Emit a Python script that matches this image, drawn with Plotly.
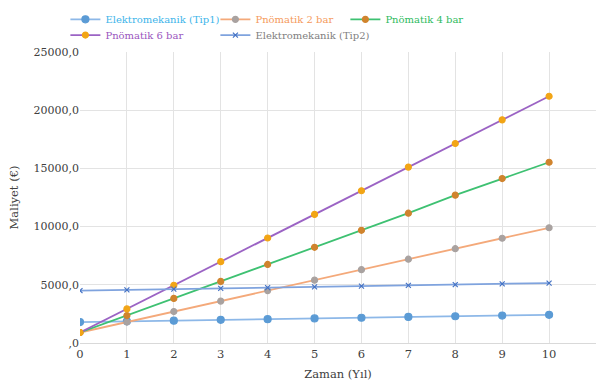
import plotly.graph_objects as go

years = list(range(0, 11))
tip1 = [1800, 1860, 1920, 1990, 2050, 2110, 2170, 2240, 2300, 2360, 2420]
bar2 = [900, 1800, 2700, 3600, 4500, 5400, 6300, 7200, 8100, 9000, 9900]
bar4 = [900, 2360, 3830, 5290, 6750, 8220, 9680, 11150, 12700, 14130, 15530]
bar6 = [900, 2930, 4960, 6990, 9020, 11050, 13080, 15110, 17140, 19170, 21200]
tip2 = [4500, 4560, 4630, 4690, 4760, 4820, 4890, 4950, 5020, 5080, 5150]

y_ticks = [0, 5000, 10000, 15000, 20000, 25000]
y_labels = [",0", "5000,0", "10000,0", "15000,0", "20000,0", "25000,0"]
x_ticks = list(range(0, 12))

SERIF = "DejaVu Serif"

series = [
    ("Elektromekanik (Tip1)", tip1, "#8DB8E8", "#5B9BD5", "circle", 7, "#3DB5EA", "legend", -0.0283, 1.162),
    ("Pnömatik 2 bar", bar2, "#F4A97A", "#A9A2A0", "circle", 6, "#F59A5C", "legend2", 0.2624, 1.162),
    ("Pnömatik 4 bar", bar4, "#3EC172", "#D0842E", "circle", 6, "#2EBB5E", "legend3", 0.5143, 1.162),
    ("Pnömatik 6 bar", bar6, "#9B63C4", "#F2A516", "circle", 6, "#9A56BE", "legend4", -0.0283, 1.108),
    ("Elektromekanik (Tip2)", tip2, "#7FA3DE", "#4472C4", "x-thin", 5, "#808080", "legend5", 0.2624, 1.108),
]

fig = go.Figure()
legends = {}
for name, vals, lc, mc, sym, sz, tc, lg, lx, ly in series:
    fig.add_trace(go.Scatter(
        x=years, y=vals,
        name=f"<span style='color:{tc}'>{name}</span>",
        mode="lines+markers",
        line=dict(color=lc, width=1.8),
        marker=dict(color=mc, size=sz, symbol=sym,
                    line=dict(color=mc, width=1.2)),
        legend=lg,
    ))
    legends[lg] = dict(orientation="h", xanchor="left", yanchor="top", x=lx, y=ly,
                       font=dict(family=SERIF, size=10), itemwidth=30,
                       bgcolor="rgba(0,0,0,0)")

fig.update_layout(
    width=601, height=390,
    margin=dict(l=80, r=5, t=52, b=47),
    paper_bgcolor="white", plot_bgcolor="white",
    font=dict(family=SERIF, size=11, color="#595959"),
    showlegend=True,
    xaxis=dict(range=[0, 11], tickvals=x_ticks, showgrid=True, gridcolor="#E3E3E3",
               zeroline=False, showline=True, linecolor="#D9D9D9",
               ticks="", tickfont=dict(family=SERIF, size=11.5, color="#404040"),
               title=dict(text="Zaman (Yıl)", font=dict(family=SERIF, size=11.5, color="#404040"), standoff=10)),
    yaxis=dict(range=[0, 25000], tickvals=y_ticks, ticktext=y_labels,
               showgrid=True, gridcolor="#E3E3E3", zeroline=False,
               ticks="", tickfont=dict(family=SERIF, size=11, color="#404040"),
               title=dict(text="Maliyet (€)", font=dict(family=SERIF, size=11.5, color="#404040"), standoff=12)),
)
fig.update_layout(**legends)

fig.write_html("out.html")
